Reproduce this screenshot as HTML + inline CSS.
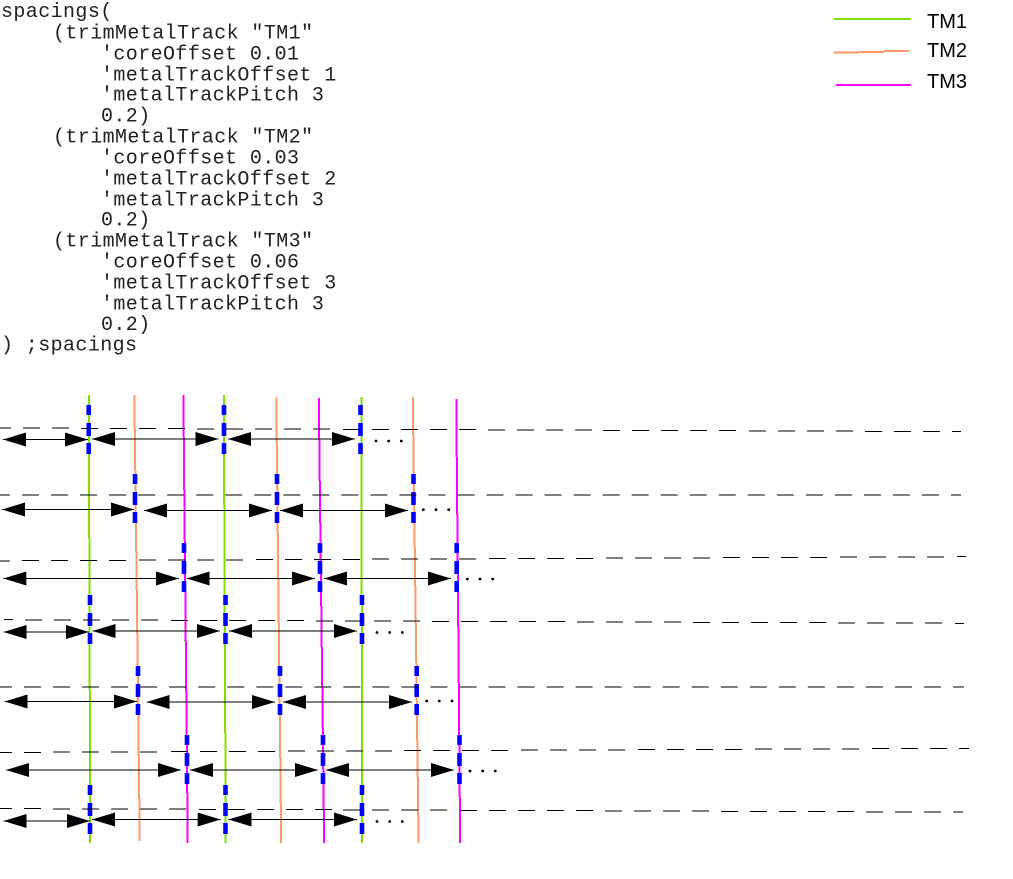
<!DOCTYPE html>
<html>
<head>
<meta charset="utf-8">
<style>
html,body{margin:0;padding:0;background:#fff}
svg{display:block}
.m{font-family:"Liberation Mono",monospace;font-size:20px;letter-spacing:.4px;fill:#222}
.s{font-family:"Liberation Sans",sans-serif;font-size:20px;fill:#000}
.ar line{stroke:#000;stroke-width:1;marker-start:url(#h);marker-end:url(#h)}
.v{fill:none;stroke-width:2}
</style>
</head>
<body>
<svg xmlns="http://www.w3.org/2000/svg" width="1013" height="879" viewBox="0 0 1013 879">
<defs>
<marker id="h" markerUnits="userSpaceOnUse" markerWidth="23" markerHeight="14" refX="23" refY="7" orient="auto-start-reverse"><path d="M0 0L23 7L0 14z" fill="#000"/></marker>
</defs>
<rect width="1013" height="879" fill="#fff"/>

<g class="m">
<text x="1" y="17">spacings(</text>
<text x="53" y="38.5">(trimMetalTrack "TM1"</text>
<text x="101" y="59.5">'coreOffset 0.01</text>
<text x="101" y="80.5">'metalTrackOffset 1</text>
<text x="101" y="100.5">'metalTrackPitch 3</text>
<text x="101" y="121.5">0.2)</text>
<text x="53" y="142.5">(trimMetalTrack "TM2"</text>
<text x="101" y="163.5">'coreOffset 0.03</text>
<text x="101" y="184.5">'metalTrackOffset 2</text>
<text x="101" y="205.5">'metalTrackPitch 3</text>
<text x="101" y="225.5">0.2)</text>
<text x="53" y="246.5">(trimMetalTrack "TM3"</text>
<text x="101" y="267.5">'coreOffset 0.06</text>
<text x="101" y="288.5">'metalTrackOffset 3</text>
<text x="101" y="309.5">'metalTrackPitch 3</text>
<text x="101" y="330">0.2)</text>
<text x="1" y="350.5">) ;spacings</text>
</g>

<path d="M834 19H911" stroke="#7fe000" stroke-width="2" fill="none"/>
<path d="M834 52.5H859M859 52H884M884 51H909" stroke="#ff9966" stroke-width="2" fill="none"/>
<path d="M836 85H911" stroke="#ff00ff" stroke-width="2" fill="none"/>
<text class="s" x="927" y="28">TM1</text>
<text class="s" x="927" y="57">TM2</text>
<text class="s" x="927" y="88">TM3</text>

<!-- vertical tracks -->
<path class="v" stroke="#7fe000" d="M89 395V538M89.5 538V690M90 690V843M224 395V505M224.5 505V618M225 618V733M225.5 733V843M361.5 397V597M362 597V843"/>
<path class="v" stroke="#ff9966" d="M134.5 395V428M135 428V470M135.5 470V520M136 520V552M136.5 552V590M137 590V633M137.5 633V672M138 672V715M138.5 715V757M139 757V798M139.5 798V841M276.5 397V443M277 443V488M277.5 488V533M278 533V578M278.5 578V623M279 623V668M279.5 668V713M280 713V758M280.5 758V803M281 803V843M413 397V435M413.5 435V472M414 472V510M414.5 510V548M415 548V586M415.5 586V623M416 623V663M416.5 663V701M417 701V740M417.5 740V777M418 777V815M418.5 815V843"/>
<path class="v" stroke="#ff00ff" d="M183.5 395V437M184 437V490M184.5 490V541M185 541V591M185.5 591V642M186 642V692M186.5 692V743M187 743V793M187.5 793V843M319 398V440M319.5 440V481M320 481V523M320.5 523V565M321 565V606M321.5 606V647M322 647V687M322.5 687V728M323 728V769M323.5 769V810M324 810V843M456.5 399V457M457 457V515M457.5 515V571M458 571V627M458.5 627V683M459 683V740M459.5 740V797M460 797V843"/>

<!-- blue dashes -->
<path fill="none" stroke="#0000ff" stroke-width="4.6" stroke-dasharray="10 8 13 7 11 99" d="M88.7 405V454M224 405V454M360.5 405V454M135 474V523M277 474V523M413.5 474V523M184 543V592M320 543V592M456.7 543V592M90 595V644M225.5 595V644M362 595V644M138 666V715M280 666V715M416.7 666V715M187 735V784M323 735V784M459.5 735V784M90 785V834M225.5 785V834M362 785V834"/>

<!-- horizontal dashed lines -->
<path fill="none" stroke="#000" stroke-width="1" stroke-dasharray="17 12.03" d="M-6 428H70M81 428.5H186M197 429H331M343 429.5H476M488 430H592M603 430.5H738M749 431H854M865 431.5H961
M-7 495H961
M-7 561H10M22 560.5H127M139 560H244M256 559.5H361M372 559H478M489 558.5H594M606 558H712M723 557.5H828M840 557H945M957 556.5H966
M4 619.5H13M25 620H159M171 620.5H305M316 621H420M432 621.5H566M577 622H682M693 622.5H827M838 623H943M955 623.5H964
M-5 687H964
M-5 752.5H41M53 752H159M171 751.5H276M288 751H393M404 750.5H510M521 750H627M638 749.5H744M755 749H860M872 748.5H969
M-5 808.5H41M53 809H187M199 809.5H332M343 810H448M460 810.5H594M605 811H710M721 811.5H855M866 812H963"/>

<!-- double arrows -->
<g class="ar">
<line x1="3" y1="439.5" x2="88" y2="439.5"/><line x1="92" y1="439" x2="218.5" y2="439"/><line x1="228" y1="439" x2="355" y2="439"/>
<line x1="2" y1="509.5" x2="134" y2="509.5"/><line x1="144" y1="510.5" x2="272" y2="510.5"/><line x1="280" y1="510.5" x2="408" y2="510.5"/>
<line x1="3.3" y1="578.5" x2="179" y2="578.5"/><line x1="186.7" y1="578.5" x2="315" y2="578.5"/><line x1="324" y1="578.5" x2="451" y2="578.5"/>
<line x1="3.5" y1="632" x2="89" y2="632"/><line x1="92.5" y1="631" x2="220" y2="631"/><line x1="229" y1="631" x2="357" y2="631"/>
<line x1="4.7" y1="701.5" x2="137" y2="701.5"/><line x1="146.7" y1="702" x2="275" y2="702"/><line x1="283" y1="702" x2="412" y2="702"/>
<line x1="6" y1="770" x2="181" y2="770"/><line x1="190" y1="770" x2="318" y2="770"/><line x1="326" y1="770" x2="454" y2="770"/>
<line x1="3.5" y1="821" x2="90" y2="821"/><line x1="92" y1="819.5" x2="220.7" y2="819.5"/><line x1="228.5" y1="819.5" x2="357" y2="819.5"/>
</g>

<!-- ellipsis dots -->
<g fill="#000">
<circle cx="376" cy="441" r="1.4"/><circle cx="388.7" cy="441" r="1.4"/><circle cx="401.3" cy="441" r="1.4"/>
<circle cx="423.3" cy="509.7" r="1.4"/><circle cx="436" cy="509.7" r="1.4"/><circle cx="448.7" cy="509.7" r="1.4"/>
<circle cx="467.3" cy="579" r="1.4"/><circle cx="480" cy="579" r="1.4"/><circle cx="492.7" cy="579" r="1.4"/>
<circle cx="377" cy="632.5" r="1.4"/><circle cx="389.7" cy="632.5" r="1.4"/><circle cx="402.3" cy="632.5" r="1.4"/>
<circle cx="426.7" cy="701" r="1.4"/><circle cx="439.3" cy="701" r="1.4"/><circle cx="452" cy="701" r="1.4"/>
<circle cx="470" cy="771" r="1.4"/><circle cx="482.7" cy="771" r="1.4"/><circle cx="495.3" cy="771" r="1.4"/>
<circle cx="377" cy="821.5" r="1.4"/><circle cx="389.7" cy="821.5" r="1.4"/><circle cx="402.3" cy="821.5" r="1.4"/>
</g>
</svg>
</body>
</html>
